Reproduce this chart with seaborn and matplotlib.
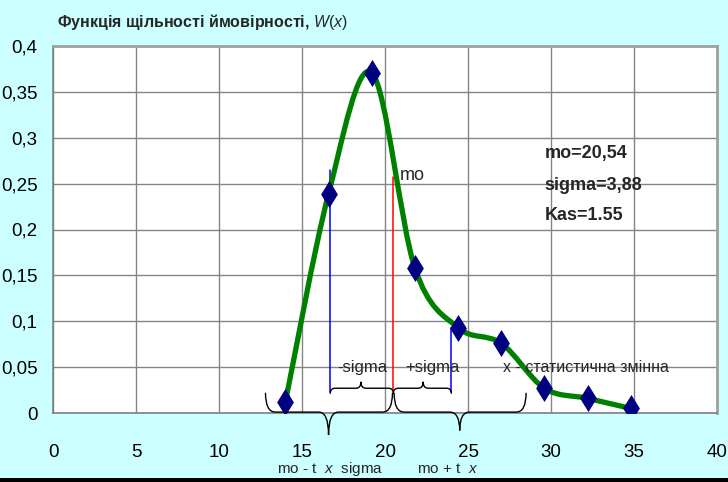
import numpy as np
import matplotlib
matplotlib.use("Agg")
import matplotlib.pyplot as plt
import seaborn as sns
from matplotlib.path import Path
from matplotlib.patches import PathPatch, Rectangle

# data
x_vals = [14.0, 16.6, 19.2, 21.8, 24.4, 27.0, 29.6, 32.2, 34.8]
w_vals = [0.012, 0.239, 0.371, 0.158, 0.093, 0.076, 0.027, 0.016, 0.005]
x_ticks = [0, 5, 10, 15, 20, 25, 30, 35, 40]
y_ticks = [0, 0.05, 0.1, 0.15, 0.2, 0.25, 0.3, 0.35, 0.4]
y_labels = ["0", "0,05", "0,1", "0,15", "0,2", "0,25", "0,3", "0,35", "0,4"]

# mo, mo +/- sigma markers: x, bottom, top, colour
ref_x = [16.7, 20.5, 24.0]
ref_bottom = [0.023, 0.025, 0.023]
ref_top = [0.265, 0.257, 0.093]
ref_colors = ["#0000FF", "#FF0000", "#0000FF"]

sns.set_style("white")
fonts = ["Liberation Sans Narrow", "Liberation Sans", "DejaVu Sans"]
plt.rcParams["font.family"] = fonts
plt.rcParams["mathtext.fontset"] = "custom"
plt.rcParams["mathtext.it"] = "Liberation Sans:italic"
plt.rcParams["mathtext.rm"] = "Liberation Sans"

fig = plt.figure(figsize=(7.28, 4.82), dpi=100, facecolor="#CCFFFF")
ax = fig.add_axes([53 / 728, 69 / 482, 664 / 728, 367 / 482])
ax.set_facecolor("white")

# smoothed line (bezier through the points, like excel smoothing)
pts = np.column_stack([x_vals, w_vals])
ext = np.vstack([pts[0], pts, pts[-1]])
verts = [tuple(pts[0])]
codes = [Path.MOVETO]
for i in range(1, len(ext) - 2):
    p0, p1, p2, p3 = ext[i - 1], ext[i], ext[i + 1], ext[i + 2]
    c1 = p1 + (p2 - p0) / 6
    c2 = p2 - (p3 - p1) / 6
    verts += [tuple(c1), tuple(c2), tuple(p2)]
    codes += [Path.CURVE4] * 3
ax.add_patch(PathPatch(Path(verts, codes), fill=False, edgecolor="#008000",
                       lw=3.8, zorder=3, capstyle="round"))

sns.scatterplot(x=x_vals, y=w_vals, ax=ax, marker=[(-0.62, 0), (0, 1), (0.62, 0), (0, -1)],
                s=380, color="#000080", linewidth=0, zorder=4)

for xx, b, t, c in zip(ref_x, ref_bottom, ref_top, ref_colors):
    ax.plot([xx, xx], [b, t], color=c, lw=1.1, zorder=2)


def brace(x0, x1, xm, y_end, y_bar, y_tip, r):
    v = [(x0, y_end), (x0, y_bar), (x0 + r, y_bar), (xm - r, y_bar),
         (xm, y_bar), (xm, y_tip), (xm, y_bar), (xm + r, y_bar),
         (x1 - r, y_bar), (x1, y_bar), (x1, y_end)]
    c = [Path.MOVETO, Path.CURVE3, Path.CURVE3, Path.LINETO,
         Path.CURVE3, Path.CURVE3, Path.CURVE3, Path.CURVE3,
         Path.LINETO, Path.CURVE3, Path.CURVE3]
    ax.add_patch(PathPatch(Path(v, c), fill=False, edgecolor="black", lw=1.0,
                           zorder=5, clip_on=False))


brace(16.7, 20.5, 18.55, 0.021, 0.027, 0.034, 0.3)
brace(20.5, 24.0, 22.3, 0.021, 0.027, 0.034, 0.3)
brace(12.8, 20.45, 16.6, 0.022, 0.001, -0.024, 0.6)
brace(20.55, 28.5, 24.5, 0.022, 0.001, -0.019, 0.6)

ax.set_xlim(0, 40)
ax.set_ylim(0, 0.4)
ax.set_xticks(x_ticks)
ax.set_yticks(y_ticks)
ax.set_yticklabels(y_labels)
ax.grid(True, color="#858585", lw=1.0, zorder=0)
ax.set_axisbelow(True)
ax.tick_params(axis="both", direction="out", length=4, labelsize=13.5,
               colors="#808080", labelcolor="black")
ax.tick_params(axis="x", pad=18)
ax.tick_params(axis="y", pad=7)
for side in ["left", "bottom"]:
    ax.spines[side].set_color("#808080")
    ax.spines[side].set_linewidth(1.2)
for side in ["top", "right"]:
    ax.spines[side].set_color("#A0A0A0")
    ax.spines[side].set_linewidth(2.0)

clip_sig = Rectangle((0, 0.05), 40, 0.4, transform=ax.transData)
for tx, label in [(17.1, "-sigma"), (21.2, "+sigma")]:
    t = ax.text(tx, 0.045, label, fontsize=12, va="baseline", zorder=6)
    t.set_clip_path(clip_sig)
clip_mo = Rectangle((0, 0.257), 40, 0.2, transform=ax.transData)
t = ax.text(20.9, 0.254, "mo", fontsize=13, va="baseline", zorder=6)
t.set_clip_path(clip_mo)

ax.text(27.1, 0.0447, "x - статистична змінна", fontsize=11.5, va="baseline", zorder=6)
ax.text(29.6, 0.278, "mo=20,54", fontsize=13, fontweight="bold", va="baseline")
ax.text(29.6, 0.243, "sigma=3,88", fontsize=13, fontweight="bold", va="baseline")
ax.text(29.6, 0.2103, "Kas=1.55", fontsize=13, fontweight="bold", va="baseline")

ax.text(13.5, -0.0655, r"mo - t  $x$  sigma", fontsize=11, va="baseline", clip_on=False)
ax.text(21.9, -0.0655, r"mo + t  $x$", fontsize=11, va="baseline", clip_on=False)

fig.text(57 / 728, (482 - 27) / 482, r"Функція щільності ймовірності, $W(x)$",
         fontsize=11.5, fontweight="bold", va="baseline")

fig.patches.append(Rectangle((0, 0), 1, 4 / 482, transform=fig.transFigure,
                             facecolor="black", edgecolor="none", zorder=10))

fig.savefig("out.png", dpi=100, facecolor=fig.get_facecolor())
